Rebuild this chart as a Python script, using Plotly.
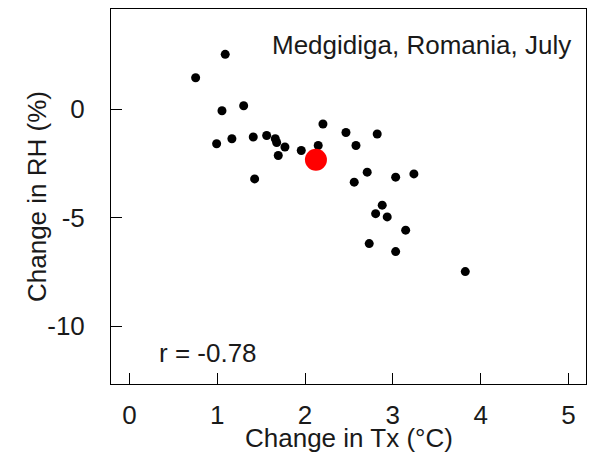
import plotly.graph_objects as go

# Station-level changes (July) for each model run
change_tx = [0.754, 1.091, 1.054, 1.301, 0.993, 1.167, 1.410, 1.426, 1.563, 1.661,
             1.677, 1.695, 1.771, 1.957, 2.150, 2.204, 2.466, 2.580, 2.822, 2.708,
             2.560, 3.032, 3.240, 2.879, 2.804, 2.936, 3.146, 2.731, 3.032, 3.825]
change_rh = [1.44, 2.52, -0.08, 0.15, -1.60, -1.37, -1.29, -3.22, -1.22, -1.37,
             -1.54, -2.14, -1.75, -1.91, -1.68, -0.69, -1.08, -1.68, -1.15, -2.91,
             -3.37, -3.14, -2.99, -4.43, -4.82, -4.97, -5.58, -6.20, -6.57, -7.49]

# Ensemble mean
mean_tx = [2.124]
mean_rh = [-2.34]

x_ticks = [0, 1, 2, 3, 4, 5]
y_ticks = [0, -5, -10]

station_label = "Medgidiga, Romania, July"
corr_label = "r = -0.78"
x_title = "Change in Tx (°C)"
y_title = "Change in RH (%)"

FONT = "Liberation Sans, Arial, sans-serif"
FS = 26
TXT = "#1a1a1a"

fig = go.Figure()
fig.add_trace(go.Scatter(
    x=change_tx, y=change_rh, mode="markers",
    marker=dict(color="black", size=9, line=dict(width=0)),
    showlegend=False, hoverinfo="x+y"))
fig.add_trace(go.Scatter(
    x=mean_tx, y=mean_rh, mode="markers",
    marker=dict(color="#ff0000", size=22, line=dict(width=0)),
    showlegend=False, hoverinfo="x+y"))

fig.add_annotation(x=5.05, y=2.95, xref="x", yref="y", text=station_label,
                   showarrow=False, xanchor="right", yanchor="middle",
                   font=dict(family=FONT, size=FS, color=TXT))
fig.add_annotation(x=0.31, y=-11.24, xref="x", yref="y", text=corr_label,
                   showarrow=False, xanchor="left", yanchor="middle",
                   font=dict(family=FONT, size=FS, color=TXT))

# Axis titles placed as paper-anchored annotations
fig.add_annotation(x=0.5, y=-0.098, xref="paper", yref="paper", text=x_title,
                   showarrow=False, xanchor="center", yanchor="top",
                   font=dict(family=FONT, size=FS, color=TXT))
fig.add_annotation(x=-0.156, y=0.501, xref="paper", yref="paper", text=y_title,
                   showarrow=False, xanchor="center", yanchor="middle",
                   textangle=-90,
                   font=dict(family=FONT, size=FS, color=TXT))

axis_common = dict(
    showgrid=False, zeroline=False, showline=True, mirror=True,
    linecolor="black", linewidth=1, ticks="inside", ticklen=11,
    tickwidth=1, tickcolor="black", automargin=False,
    tickfont=dict(family=FONT, size=FS, color=TXT),
)

fig.update_xaxes(
    range=[-0.21, 5.2], tickvals=x_ticks, ticktext=[str(v) for v in x_ticks],
    ticklabelstandoff=8, **axis_common)
fig.update_yaxes(
    range=[-12.67, 4.61], tickvals=y_ticks, ticktext=[str(v) for v in y_ticks],
    ticklabelstandoff=20, **axis_common)

fig.update_layout(
    width=590, height=453,
    margin=dict(l=111, r=4, t=9, b=69),
    paper_bgcolor="white", plot_bgcolor="white",
    font=dict(family=FONT, size=FS, color=TXT),
)

fig.write_html("out.html")
